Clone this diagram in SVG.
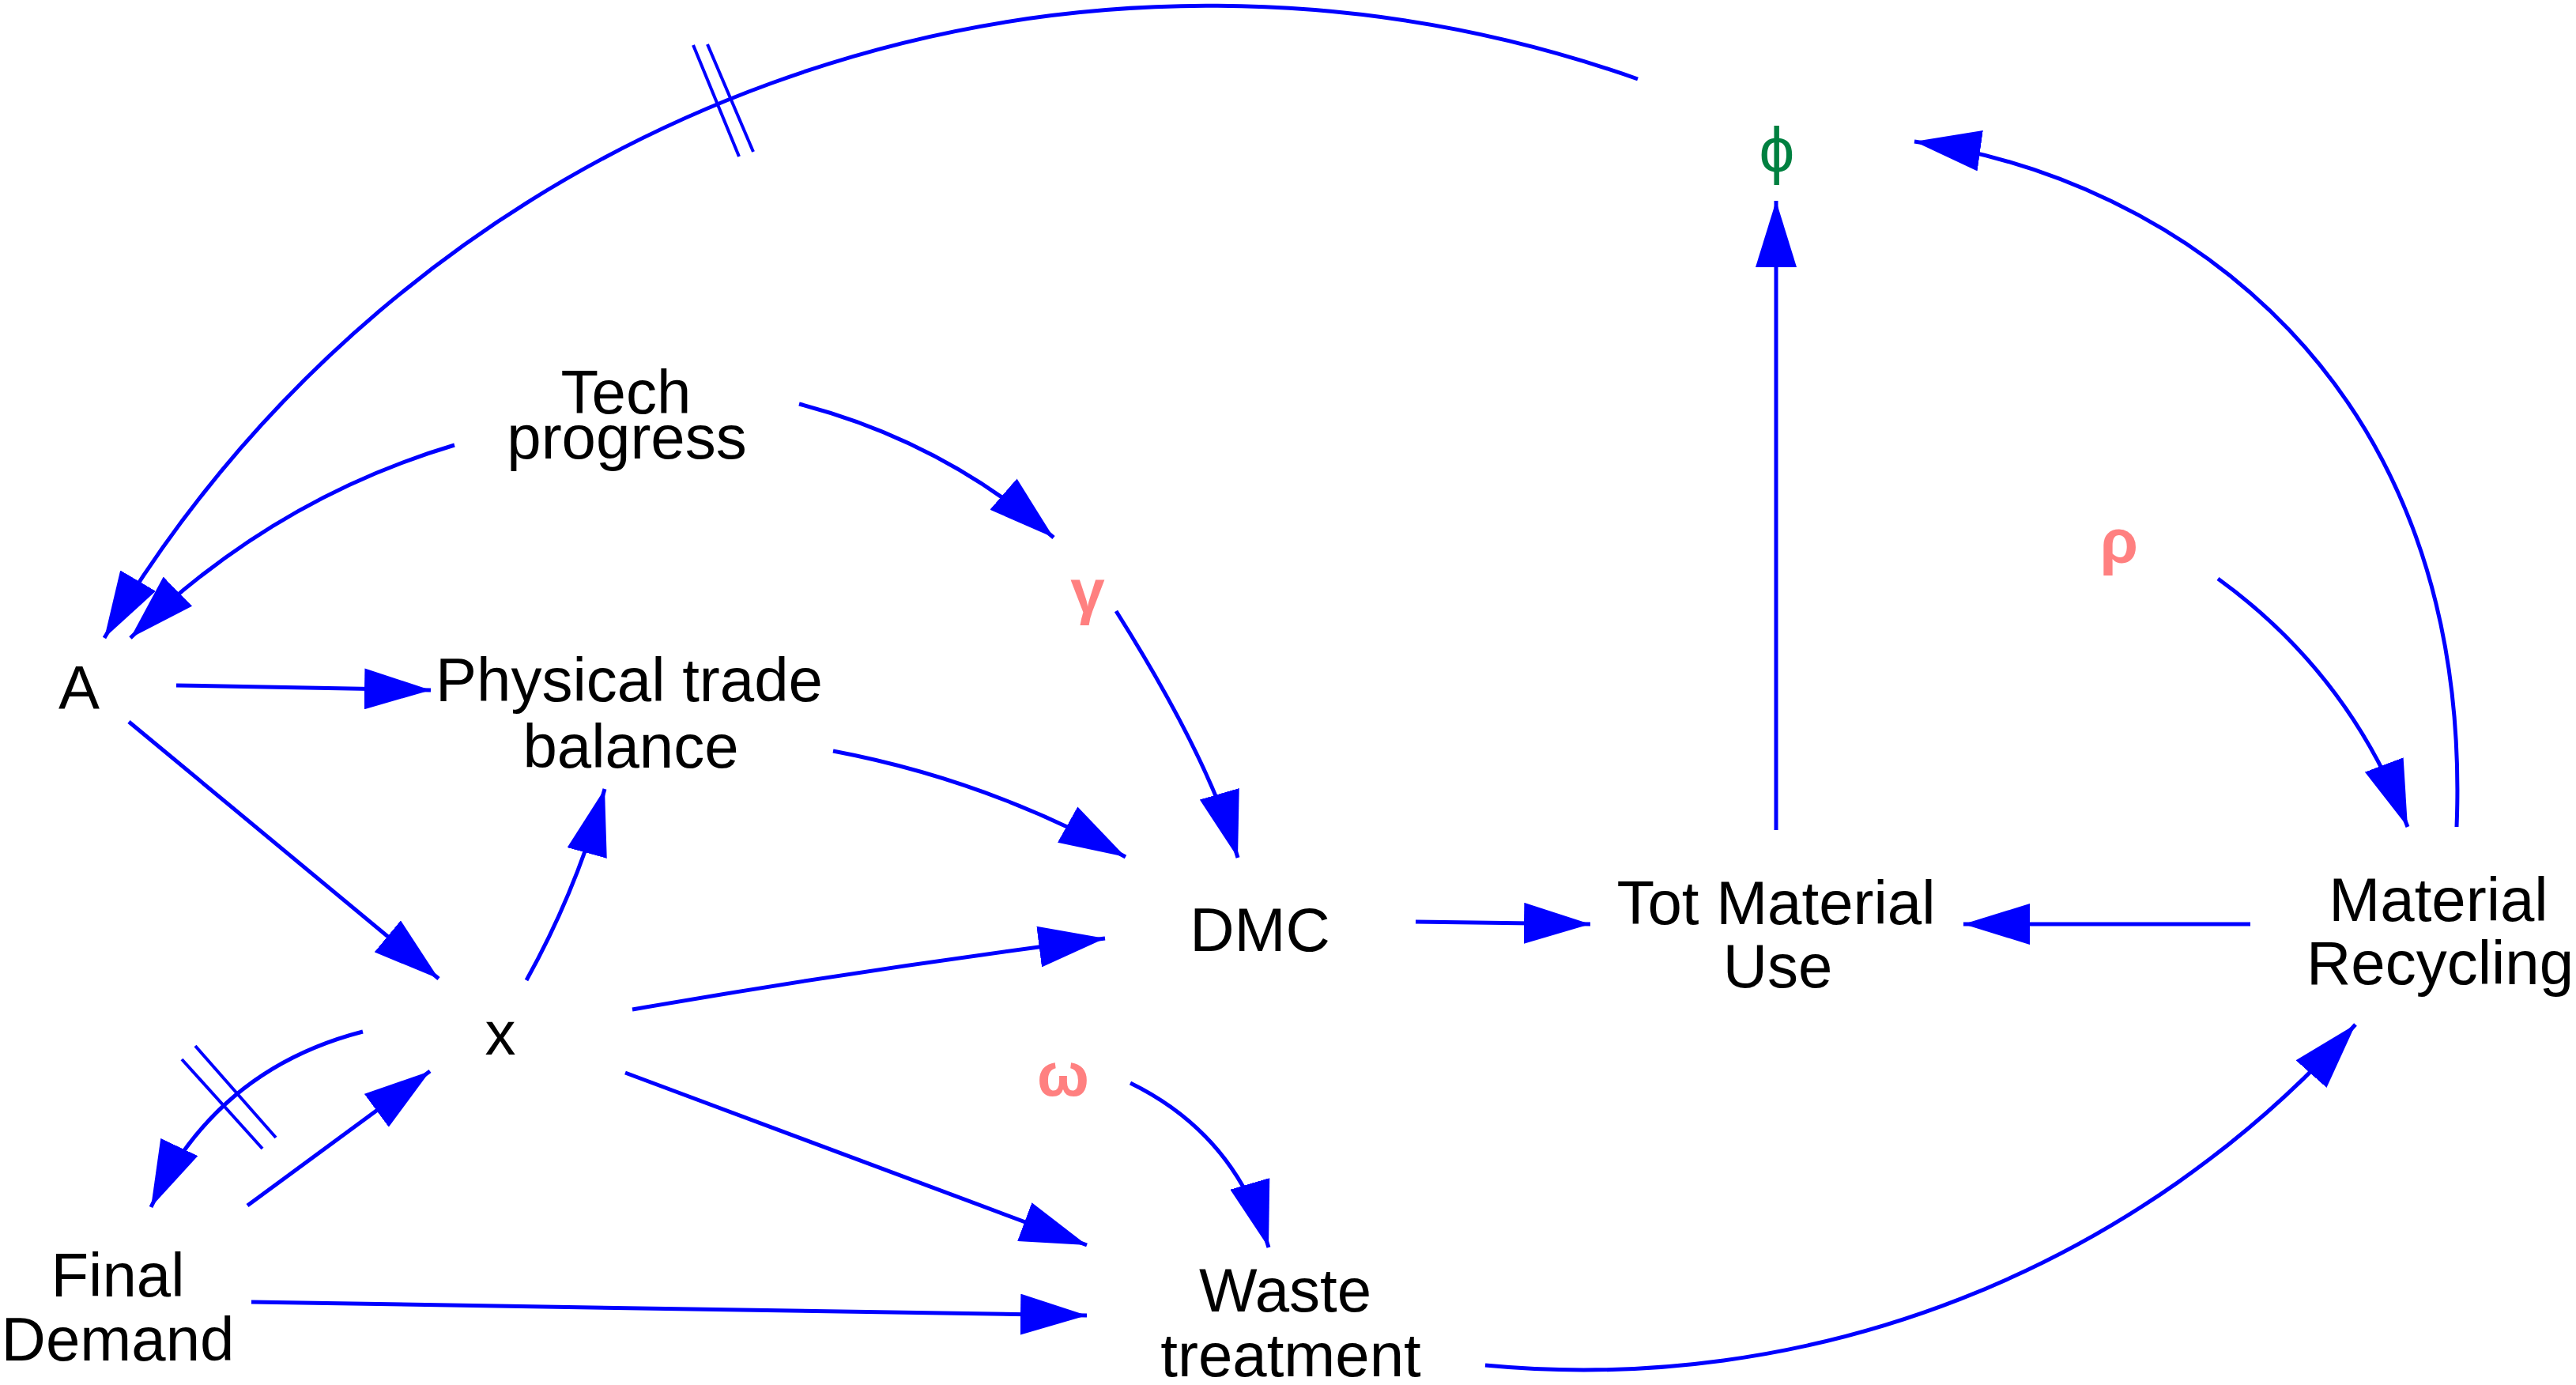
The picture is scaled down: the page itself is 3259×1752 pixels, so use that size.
<svg xmlns="http://www.w3.org/2000/svg" width="3259" height="1752" viewBox="0 0 3259 1752">
<style>
.lbl{font-family:"Liberation Sans",Arial,sans-serif;font-size:78px;fill:#000;text-anchor:middle}
.gr{font-family:"Liberation Sans",Arial,sans-serif;font-size:78px;font-weight:bold;fill:#FF8080;text-anchor:middle}
.phi{font-family:"Liberation Sans",Arial,sans-serif;font-size:80px;fill:#008040;text-anchor:middle}
.c{fill:none;stroke:#0000FF;stroke-width:5}
.a{marker-end:url(#ah)}
.t{fill:none;stroke:#0000FF;stroke-width:4}
</style>
<defs>
<marker id="ah" markerUnits="userSpaceOnUse" viewBox="0 0 84 52" refX="84" refY="26" markerWidth="84" markerHeight="52" orient="auto">
<path d="M0,0 L84,26 L0,52 z" fill="#0000FF"/>
</marker>
</defs>
<rect width="3259" height="1752" fill="#fff"/>
<g id="connectors">
<path class="c a" d="M2072,100 A1624,1624 0 0 0 132,807"/>
<line class="t" x1="877" y1="57" x2="935" y2="198"/>
<line class="t" x1="895" y1="56" x2="953" y2="192"/>
<path class="c a" d="M575,563 Q343,632 165,807"/>
<path class="c a" d="M1011,511 Q1192,558 1333,680"/>
<path class="c a" d="M1412,773 Q1530,960 1566,1085"/>
<path class="c a" d="M223,867 L545,873"/>
<path class="c a" d="M163,913 L555,1238"/>
<path class="c a" d="M666,1240 Q730,1125 765,998"/>
<path class="c a" d="M1054,950 Q1250,987 1424,1084"/>
<path class="c a" d="M800,1277 Q1100,1225 1398,1187"/>
<path class="c a" d="M791,1357 L1375,1575"/>
<path class="c a" d="M1430,1370 Q1563,1435 1605,1578"/>
<path class="c a" d="M313,1525 L544,1355"/>
<path class="c a" d="M459,1305 Q273,1353 191,1527"/>
<line class="t" x1="230" y1="1340" x2="332" y2="1453"/>
<line class="t" x1="247" y1="1323" x2="349" y2="1439"/>
<path class="c a" d="M318,1647 L1375,1664"/>
<path class="c a" d="M1791,1166 L2012,1169"/>
<path class="c a" d="M2847,1169 L2484,1169"/>
<path class="c a" d="M2247,1050 L2247,254"/>
<path class="c a" d="M2806,732 Q2973,853 3046,1046"/>
<path class="c a" d="M3108,1046 C3130,480 2750,225 2422,179"/>
<path class="c a" d="M1879,1727 A1309.5,1309.5 0 0 0 2980,1296"/>
</g>
<g id="phi"><text class="phi" x="2248" y="217">ϕ</text></g>
<g id="tech-progress"><text class="lbl" x="792" y="523">Tech</text><text class="lbl" x="793" y="580">progress</text></g>
<g id="A"><text class="lbl" x="100" y="897">A</text></g>
<g id="physical-trade-balance"><text class="lbl" x="796" y="887">Physical trade</text><text class="lbl" x="798" y="971">balance</text></g>
<g id="gamma"><text class="gr" x="1376" y="775">γ</text></g>
<g id="rho"><text class="gr" x="2681" y="712">ρ</text></g>
<g id="omega"><text class="gr" x="1345" y="1386">ω</text></g>
<g id="x"><text class="lbl" x="633" y="1334">x</text></g>
<g id="DMC"><text class="lbl" x="1594" y="1203">DMC</text></g>
<g id="tot-material-use"><text class="lbl" x="2247" y="1169">Tot Material</text><text class="lbl" x="2249" y="1249">Use</text></g>
<g id="material-recycling"><text class="lbl" x="3085" y="1165">Material</text><text class="lbl" x="3087" y="1245">Recycling</text></g>
<g id="final-demand"><text class="lbl" x="149" y="1640">Final</text><text class="lbl" x="149" y="1721">Demand</text></g>
<g id="waste-treatment"><text class="lbl" x="1626" y="1659">Waste</text><text class="lbl" x="1633" y="1741">treatment</text></g>
</svg>
